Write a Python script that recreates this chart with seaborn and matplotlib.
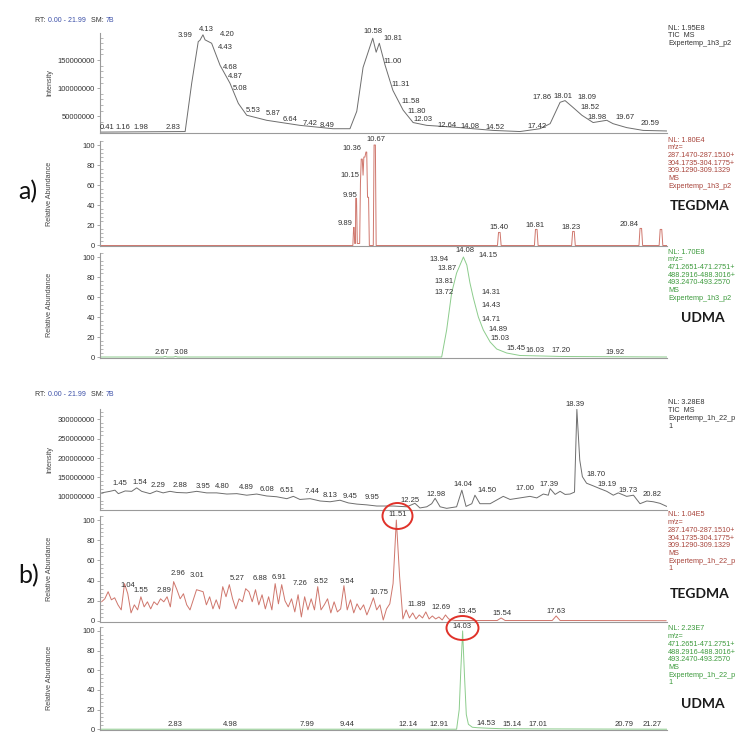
import numpy as np
import pandas as pd
import seaborn as sns
import matplotlib
matplotlib.use("Agg")
import matplotlib.pyplot as plt
from matplotlib.ticker import MultipleLocator, FuncFormatter
from matplotlib.patches import Ellipse

# ---------------- DATA ----------------
# a) TIC (intensity in millions of counts)
a_tic_time = [0.19, 3.44, 3.69, 3.94, 4.00, 4.12, 4.20, 4.45, 4.77, 5.15, 5.47, 5.79, 6.55, 7.82,
              9.08, 9.73, 9.99, 10.23, 10.60, 10.73, 10.85, 11.07, 11.37, 11.76, 12.14, 12.66,
              13.93, 15.19, 16.22, 16.98, 17.37, 17.75, 17.94, 18.24, 18.58, 19.01, 19.53, 19.77,
              20.29, 20.92, 21.82]
a_tic_mcounts = [22, 23, 109, 183, 185, 195, 186, 180, 141, 109, 73, 52, 43, 34,
                 28, 28, 59, 137, 189, 164, 180, 141, 96, 61, 39, 34,
                 30, 25, 23, 28, 37, 75, 78, 66, 52, 39, 43, 37,
                 30, 25, 24]
a_tic_peaks = ["0.41", "1.16", "1.98", "2.83", "3.99", "4.13", "4.20", "4.43", "4.68", "4.87", "5.08",
               "5.53", "5.87", "6.64", "7.42", "8.49", "10.58", "10.81", "11.00", "11.31", "11.58",
               "11.80", "12.03", "12.64", "14.08", "14.52", "17.42", "17.86", "18.01", "18.09",
               "18.52", "18.98", "19.67", "20.59"]
a_tic_peak_pos = [(0.46, 30), (1.07, 30), (1.76, 30), (2.98, 30), (3.44, 193), (4.24, 205), (5.04, 196),
                  (4.96, 173), (5.15, 136), (5.34, 120), (5.53, 100), (6.03, 61), (6.79, 55), (7.44, 45),
                  (8.21, 37), (8.85, 34), (10.61, 200), (11.37, 189), (11.34, 148), (11.68, 107),
                  (12.06, 77), (12.29, 59), (12.52, 45), (13.44, 34), (14.31, 32), (15.27, 30),
                  (16.87, 32), (17.06, 84), (17.86, 86), (18.78, 84), (18.89, 66), (19.16, 48),
                  (20.23, 48), (21.18, 37)]

# a) TEGDMA (relative abundance %)
a_teg_time = [0.19, 9.84, 9.87, 9.89, 9.91, 9.94, 9.95, 9.98, 10.01, 10.10, 10.13, 10.16, 10.20, 10.23,
              10.26, 10.30, 10.34, 10.37, 10.40, 10.44, 10.47, 10.62, 10.65, 10.70, 10.73,
              15.36, 15.40, 15.46, 15.50, 16.77, 16.81, 16.87, 16.91, 18.19, 18.23, 18.29, 18.33,
              20.76, 20.80, 20.86, 20.90, 21.53, 21.57, 21.63, 21.67, 21.83]
a_teg_abund = [0, 0, 18, 18, 2, 2, 47, 47, 2, 2, 62, 86, 86, 70,
               88, 88, 93, 93, 48, 48, 0, 0, 100, 100, 0,
               0, 13, 13, 0, 0, 16, 16, 0, 0, 14, 14, 0,
               0, 17, 17, 0, 0, 16, 16, 0, 0]
a_teg_peaks = ["9.89", "9.95", "10.15", "10.36", "10.67", "15.40", "16.81", "18.23", "20.84"]
a_teg_peak_pos = [(9.54, 21.5), (9.72, 49.5), (9.72, 69.6), (9.81, 96.7), (10.71, 105),
                  (15.40, 18.2), (16.80, 19.8), (18.18, 18.2), (20.40, 20.8)]

# a) UDMA (relative abundance %)
a_udma_time = [0.19, 2.60, 2.67, 2.75, 3.00, 3.08, 3.15, 13.23, 13.42, 13.61, 13.80, 13.93, 14.06,
               14.19, 14.31, 14.44, 14.63, 14.82, 15.08, 15.33, 15.71, 16.22, 17.87, 21.83]
a_udma_abund = [0, 0, 0.6, 0, 0, 0.6, 0, 0, 27, 64, 84, 92, 100,
                92, 74, 59, 40, 27, 15, 8, 4, 1.5, 0.5, 0]
a_udma_peaks = ["2.67", "3.08", "13.72", "13.81", "13.87", "13.94", "14.08", "14.15", "14.31", "14.43",
                "14.71", "14.89", "15.03", "15.45", "16.03", "17.20", "19.92"]
a_udma_peak_pos = [(2.56, 5), (3.27, 5), (13.31, 64.6), (13.31, 75.5), (13.43, 88.7), (13.13, 97.7),
                   (14.11, 106), (15.01, 101.7), (15.10, 64.2), (15.10, 52), (15.10, 37.4),
                   (15.37, 27.2), (15.46, 18.2), (16.08, 8.3), (16.80, 6.6), (17.79, 6.6), (19.85, 4.3)]

# b) TIC (intensity in millions of counts)
b_tic_time = [0.25, 0.57, 0.76, 0.89, 1.15, 1.40, 1.59, 1.78, 2.10, 2.35, 2.60, 2.86, 3.12, 3.50, 3.88,
              4.26, 4.64, 5.03, 5.41, 5.79, 6.17, 6.55, 6.93, 7.32, 7.57, 7.82, 8.21, 8.59, 8.97,
              9.35, 9.67, 9.99, 10.37, 10.75, 11.39, 11.90, 12.21, 12.40, 12.66, 12.85, 12.98,
              13.17, 13.42, 13.80, 14.00, 14.16, 14.38, 14.50, 14.69, 15.08, 15.58, 15.84, 16.22,
              16.60, 16.86, 17.11, 17.30, 17.37, 17.56, 17.75, 17.94, 18.13, 18.30, 18.39, 18.50,
              18.60, 18.76, 19.02, 19.27, 19.53, 19.78, 19.97, 20.29, 20.55, 20.80, 21.06, 21.31,
              21.56, 21.82]
b_tic_mcounts = [110, 114, 117, 108, 115, 114, 123, 114, 108, 115, 110, 114, 111, 110, 114,
                 110, 110, 107, 108, 104, 107, 102, 100, 95, 101, 93, 95, 89, 87,
                 91, 84, 81, 79, 76, 76, 74, 83, 71, 74, 82, 96,
                 74, 70, 74, 117, 75, 82, 104, 82, 82, 101, 93, 97,
                 101, 97, 107, 104, 121, 106, 114, 106, 107, 112, 326, 195,
                 152, 135, 128, 121, 114, 104, 110, 101, 104, 82, 89, 87,
                 83, 75]
b_tic_peaks = ["1.45", "1.54", "2.29", "2.88", "3.95", "4.80", "4.89", "6.08", "6.51", "7.44", "8.13",
               "9.45", "9.95", "12.25", "12.98", "14.04", "14.50", "17.00", "17.39", "18.39", "18.70",
               "19.19", "19.73", "20.82"]
b_tic_peak_pos = [(0.95, 133), (1.72, 137), (2.42, 130), (3.24, 130), (4.11, 126), (4.87, 126),
                  (5.79, 123), (6.55, 120), (7.32, 117), (8.27, 113), (8.97, 104), (9.73, 101),
                  (10.56, 98), (12.02, 91), (13.02, 107), (14.03, 132), (14.95, 115), (16.41, 121),
                  (17.34, 132), (18.32, 338), (19.11, 158), (19.53, 132), (20.36, 115), (21.25, 106)]

# b) TEGDMA (relative abundance %), sampled every 0.125 min from 0.25 to 13.75 min
b_teg_sampled = [19, 22, 29, 21, 23, 16, 11, 37, 27, 8, 16, 11, 24, 14, 19, 12, 19, 16, 22, 19,
                 24, 14, 39, 31, 22, 27, 16, 11, 21, 31, 30, 29, 16, 24, 12, 21, 12, 34, 24, 36,
                 22, 12, 22, 19, 32,
                 29, 19, 31, 16, 26, 12, 24, 11, 37, 17, 36, 20, 14, 22, 9, 26, 4, 24, 11, 22,
                 11, 34, 11, 16, 22, 8, 19, 9, 12, 35, 11, 21, 8, 17, 11, 16, 6, 14, 23, 11,
                 16, 1, 12, 17, 37,
                 100, 44, 2, 11, 3, 8, 2, 6, 3, 9, 2, 5, 2, 4, 1, 6, 2, 1, 0.5]
b_teg_tail_time = [14.00, 15.35, 15.50, 15.65, 17.45, 17.60, 17.75, 21.80]
b_teg_tail_abund = [0.5, 0.5, 3, 0.5, 0.5, 5, 0.5, 0.3]
b_teg_peaks = ["1.04", "1.55", "2.89", "2.96", "3.01", "5.27", "6.88", "6.91", "7.26", "8.52", "9.54",
               "10.75", "11.51", "11.89", "12.69", "13.45", "15.54", "17.63"]
b_teg_peak_pos = [(1.25, 34.7), (1.75, 30.7), (2.65, 30.7), (3.15, 47.2), (3.90, 44.6), (5.42, 42.2),
                  (6.28, 41.6), (7.04, 42.9), (7.84, 37.3), (8.61, 39.6), (9.63, 39.6), (10.85, 28),
                  (11.57, 105), (12.29, 16.5), (13.22, 13.2), (14.20, 9.9), (15.55, 7.6), (17.60, 9.2)]

# b) UDMA (relative abundance %)
b_udma_time = [0.19, 13.80, 13.90, 13.96, 14.03, 14.10, 14.17, 14.25, 14.40, 14.60, 15.00, 15.50,
               17.00, 21.83]
b_udma_abund = [0, 0, 20, 60, 100, 55, 15, 5, 2, 1.5, 1, 0.5, 0.3, 0]
b_udma_peaks = ["2.83", "4.98", "7.99", "9.44", "12.14", "12.91", "14.03", "14.53", "15.14", "17.01",
                "20.79", "21.27"]
b_udma_peak_pos = [(3.04, 5), (5.15, 5), (8.11, 5), (9.63, 5), (11.96, 5), (13.13, 5), (14.02, 105),
                   (14.92, 5.6), (15.90, 5), (16.89, 5), (20.20, 5), (21.28, 5)]

# right-hand info blocks
a_tic_info = ["NL: 1.95E8", "TIC  MS", "Expertemp_1h3_p2"]
a_teg_info = ["NL: 1.80E4", "m/z=", "287.1470-287.1510+", "304.1735-304.1775+", "309.1290-309.1329",
              "MS", "Expertemp_1h3_p2"]
a_udma_info = ["NL: 1.70E8", "m/z=", "471.2651-471.2751+", "488.2916-488.3016+", "493.2470-493.2570",
               "MS", "Expertemp_1h3_p2"]
b_tic_info = ["NL: 3.28E8", "TIC  MS", "Expertemp_1h_22_p", "1"]
b_teg_info = ["NL: 1.04E5", "m/z=", "287.1470-287.1510+", "304.1735-304.1775+", "309.1290-309.1329",
              "MS", "Expertemp_1h_22_p", "1"]
b_udma_info = ["NL: 2.23E7", "m/z=", "471.2651-471.2751+", "488.2916-488.3016+", "493.2470-493.2570",
               "MS", "Expertemp_1h_22_p", "1"]

# ---------------- STYLE / LAYOUT ----------------
sns.set_theme(style="white")
plt.rcParams['font.family'] = ['Liberation Sans', 'DejaVu Sans']

W, H = 736, 734
fig = plt.figure(figsize=(W / 100, H / 100), dpi=100)
fig.patch.set_facecolor("white")

XL, XR = 100, 667
X_LIM = (0.19, 21.83)
C_TIC = "#6e6e6e"
C_TEG = "#cf766c"
C_UDMA = "#8ccc8c"
C_TEG_TXT = "#a8443b"
C_UDMA_TXT = "#3c9a3c"
C_AX = "#9a9a9a"
FS = 5.5


def make_ax(top, bottom):
    return fig.add_axes([XL / W, 1 - bottom / H, (XR - XL) / W, (bottom - top) / H])


def style_ax(ax, ylim, major, minor, ylabel, fmt=None):
    ax.set_xlim(*X_LIM)
    ax.set_ylim(*ylim)
    ax.set_facecolor("none")
    for s in ["top", "right"]:
        ax.spines[s].set_visible(False)
    for s in ["left", "bottom"]:
        ax.spines[s].set_color(C_AX)
        ax.spines[s].set_linewidth(0.8)
    ax.set_xticks([])
    ax.yaxis.set_major_locator(MultipleLocator(major))
    ax.yaxis.set_minor_locator(MultipleLocator(minor))
    if fmt is not None:
        ax.yaxis.set_major_formatter(fmt)
    ax.tick_params(axis="y", which="major", direction="out", length=2.5, width=0.6,
                   color=C_AX, labelsize=FS, labelcolor="#333333", pad=1.2, left=True)
    ax.tick_params(axis="y", which="minor", direction="in", length=1.8, width=0.5,
                   color=C_AX, left=True)
    ax.set_xlabel("")
    ax.set_ylabel(ylabel, fontsize=FS - 0.3, color="#444444")
    ax.yaxis.set_label_coords(-0.083, 0.5)


def draw(ax, t, v, color):
    df = pd.DataFrame({"t": t, "v": v})
    sns.lineplot(data=df, x="t", y="v", ax=ax, color=color, linewidth=0.7,
                 estimator=None, sort=False, legend=False)


def peak_labels(ax, texts, pos, scale=1.0):
    for s, (x, y) in zip(texts, pos):
        ax.text(x, y * scale, s, ha="center", va="center", fontsize=FS, color="#333333",
                clip_on=False)


def info_block(lines, y0, color, step=7.7):
    for i, s in enumerate(lines):
        fig.text(668 / W, 1 - (y0 + i * step) / H, s, ha="left", va="center",
                 fontsize=5.2, color=color)


int_fmt = FuncFormatter(lambda v, p: f"{int(round(v))}")

# ---- a) TIC
ax = make_ax(33, 133)
draw(ax, a_tic_time, np.array(a_tic_mcounts) * 1e6, C_TIC)
style_ax(ax, (20.4e6, 198.2e6), 50e6, 10e6, "Intensity", int_fmt)
peak_labels(ax, a_tic_peaks, a_tic_peak_pos, 1e6)
info_block(a_tic_info, 28, "#333333")

# ---- a) TEGDMA
ax = make_ax(141, 246)
draw(ax, a_teg_time, a_teg_abund, C_TEG)
style_ax(ax, (-0.5, 104), 20, 4, "Relative Abundance")
peak_labels(ax, a_teg_peaks, a_teg_peak_pos)
info_block(a_teg_info, 140, C_TEG_TXT)

# ---- a) UDMA
ax = make_ax(253, 357.5)
draw(ax, a_udma_time, a_udma_abund, C_UDMA)
style_ax(ax, (-0.5, 104), 20, 4, "Relative Abundance")
peak_labels(ax, a_udma_peaks, a_udma_peak_pos)
info_block(a_udma_info, 252, C_UDMA_TXT)

# ---- b) TIC
ax = make_ax(409, 509.5)
draw(ax, b_tic_time, np.array(b_tic_mcounts) * 1e6, C_TIC)
style_ax(ax, (67e6, 327e6), 50e6, 10e6, "Intensity", int_fmt)
peak_labels(ax, b_tic_peaks, b_tic_peak_pos, 1e6)
info_block(b_tic_info, 403, "#333333")

# ---- b) TEGDMA
ax = make_ax(516, 621.5)
b_teg_time = list(np.round(0.25 + 0.125 * np.arange(len(b_teg_sampled)), 3)) + b_teg_tail_time
b_teg_abund = list(b_teg_sampled) + b_teg_tail_abund
draw(ax, b_teg_time, b_teg_abund, C_TEG)
style_ax(ax, (-0.5, 104), 20, 4, "Relative Abundance")
peak_labels(ax, b_teg_peaks, b_teg_peak_pos)
info_block(b_teg_info, 515, C_TEG_TXT)

# ---- b) UDMA
ax = make_ax(627, 729.5)
draw(ax, b_udma_time, b_udma_abund, C_UDMA)
style_ax(ax, (-0.3, 104), 20, 4, "Relative Abundance")
peak_labels(ax, b_udma_peaks, b_udma_peak_pos)
info_block(b_udma_info, 629, C_UDMA_TXT)

# ---- headers (pieces laid out one after another using measured widths)
renderer = fig.canvas.get_renderer()
header_parts = [("RT: ", "#333333"), ("0.00 - 21.99", "#3b4fa8"), ("   SM: ", "#333333"),
                ("7B", "#3b4fa8")]
for y in (20, 394):
    x = 35.0
    for s, c in header_parts:
        t = fig.text(x / W, 1 - y / H, s, fontsize=5.0, color=c, va="center", ha="left")
        bb = t.get_window_extent(renderer=renderer)
        x += bb.width

# ---- compound names and panel letters
for s, x, y in [("TEGDMA", 670, 206), ("UDMA", 681, 318), ("TEGDMA", 670, 594), ("UDMA", 681, 704)]:
    fig.text(x / W, 1 - y / H, s, fontsize=10, fontweight="bold", family=["Lato", "DejaVu Sans"],
             color="#1a1a1a", va="center", ha="left")
for s, y in [("a)", 192), ("b)", 576)]:
    fig.text(18 / W, 1 - y / H, s, fontsize=18, family=["Lato", "DejaVu Sans"],
             color="#111111", va="center", ha="left")

# ---- red circles
for cx, cy, w, h in [(397.5, 516, 30, 26), (462.5, 628, 32, 24)]:
    fig.add_artist(Ellipse((cx / W, 1 - cy / H), w / W, h / H, transform=fig.transFigure,
                           fill=False, edgecolor="#e0322a", linewidth=1.4))

fig.savefig("out.png", dpi=100, facecolor="white")
